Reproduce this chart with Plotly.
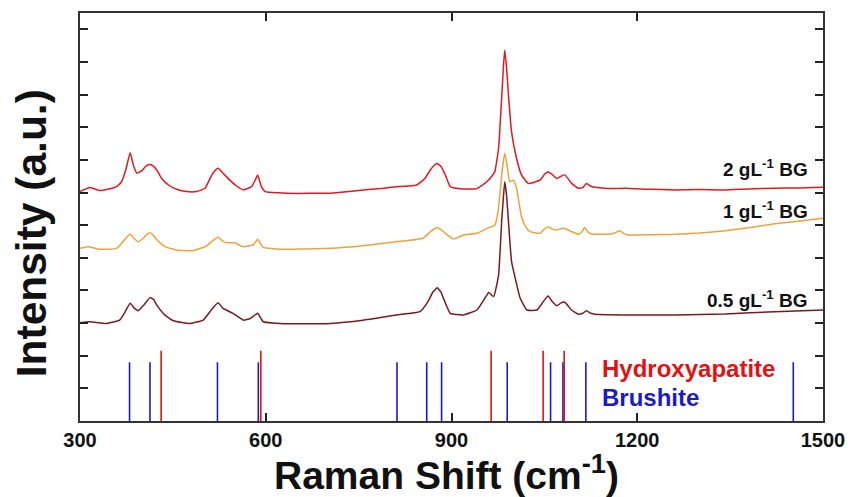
import plotly.graph_objects as go

# Raman spectra of the three bioactive-glass concentrations (offset for clarity)
shift_2g = [300, 316, 332, 345, 359, 367, 374, 381, 386, 392, 400, 406, 412, 418, 424, 432,
            443, 456, 472, 488, 502, 510, 516, 523, 531, 542, 553, 564, 577, 583, 587, 593,
            599, 620, 650, 680, 704, 730, 757, 785, 811, 830, 844, 857, 866, 876, 883, 890,
            898, 919, 941, 957, 965, 970, 976, 981, 984, 986, 989, 992, 997, 1005, 1013, 1024,
            1043, 1050, 1056, 1063, 1070, 1077, 1083, 1094, 1105, 1112, 1118, 1124, 1132, 1155,
            1180, 1220, 1261, 1300, 1342, 1380, 1422, 1460, 1500]
int_2g = [7.03, 7.15, 7.06, 7.10, 7.18, 7.33, 7.70, 8.22, 7.85, 7.59, 7.67, 7.80, 7.86, 7.82,
          7.69, 7.43, 7.23, 7.10, 7.03, 7.03, 7.13, 7.43, 7.62, 7.74, 7.59, 7.38, 7.20, 7.08,
          7.18, 7.38, 7.54, 7.18, 7.03, 6.99, 6.97, 6.98, 6.98, 7.02, 7.08, 7.12, 7.18, 7.20,
          7.23, 7.43, 7.70, 7.89, 7.80, 7.54, 7.18, 7.11, 7.12, 7.33, 7.50, 7.64, 8.35, 9.89,
          10.9, 11.37, 10.8, 9.99, 8.86, 8.05, 7.54, 7.28, 7.38, 7.55, 7.64, 7.55, 7.43, 7.50,
          7.54, 7.28, 7.13, 7.15, 7.28, 7.20, 7.16, 7.12, 7.13, 7.10, 7.08, 7.09, 7.08, 7.11,
          7.13, 7.14, 7.16]

shift_1g = [300, 313, 332, 359, 367, 374, 381, 387, 394, 402, 408, 413, 418, 424, 437, 456,
            483, 504, 514, 523, 530, 537, 550, 556, 564, 580, 587, 592, 596, 623, 660, 704,
            757, 811, 854, 866, 876, 884, 890, 903, 912, 919, 941, 957, 970, 975, 978, 982,
            986, 990, 994, 1000, 1005, 1009, 1013, 1020, 1027, 1043, 1050, 1056, 1063, 1070,
            1078, 1083, 1094, 1105, 1110, 1115, 1120, 1126, 1158, 1166, 1172, 1178, 1186, 1220,
            1261, 1300, 1342, 1380, 1422, 1460, 1500]
int_1g = [5.29, 5.34, 5.26, 5.29, 5.44, 5.60, 5.73, 5.60, 5.49, 5.60, 5.72, 5.77, 5.70, 5.55,
          5.34, 5.24, 5.22, 5.36, 5.52, 5.63, 5.52, 5.46, 5.46, 5.40, 5.34, 5.40, 5.57, 5.42,
          5.32, 5.26, 5.27, 5.29, 5.37, 5.49, 5.60, 5.80, 5.92, 5.85, 5.75, 5.58, 5.64, 5.70,
          5.75, 5.90, 6.00, 6.40, 6.92, 7.70, 8.20, 7.80, 7.33, 7.38, 7.13, 6.70, 6.26, 5.95,
          5.80, 5.75, 5.88, 5.95, 5.88, 5.85, 5.90, 5.90, 5.80, 5.72, 5.78, 5.93, 5.80, 5.73,
          5.73, 5.78, 5.83, 5.75, 5.70, 5.71, 5.72, 5.76, 5.83, 5.92, 6.04, 6.12, 6.21]

shift_05g = [300, 316, 343, 364, 373, 381, 388, 394, 403, 413, 419, 424, 437, 451, 478, 499,
             512, 523, 531, 547, 564, 575, 587, 592, 596, 623, 660, 704, 757, 811, 849, 862,
             870, 877, 883, 887, 898, 919, 941, 954, 960, 968, 976, 981, 984, 986, 989, 992,
             997, 1003, 1011, 1022, 1038, 1048, 1056, 1063, 1070, 1077, 1083, 1094, 1105, 1112,
             1118, 1125, 1132, 1180, 1261, 1342, 1422, 1500]
int_05g = [3.01, 3.04, 2.99, 3.09, 3.35, 3.61, 3.45, 3.38, 3.55, 3.78, 3.72, 3.55, 3.25, 3.07,
           2.99, 3.09, 3.40, 3.62, 3.45, 3.30, 3.09, 3.14, 3.30, 3.15, 3.04, 2.99, 2.98, 2.99,
           3.09, 3.25, 3.35, 3.66, 3.95, 4.08, 3.95, 3.76, 3.30, 3.25, 3.40, 3.76, 3.94, 3.81,
           4.47, 6.11, 6.90, 7.33, 6.90, 6.11, 4.88, 4.37, 3.76, 3.40, 3.40, 3.65, 3.83, 3.65,
           3.53, 3.62, 3.64, 3.40, 3.27, 3.30, 3.38, 3.30, 3.27, 3.25, 3.25, 3.28, 3.35, 3.40]

# Reference band positions (cm-1) and stick heights
hap_bands = [431, 592, 964, 1048, 1082]
brushite_bands = [380, 413, 522, 588, 812, 860, 884, 990, 1060, 1080, 1117, 1452]
hap_height = 2.15
brushite_height = 1.8

x_ticks = [300, 600, 900, 1200, 1500]

FONT = "Arial, Liberation Sans, sans-serif"
RED = "#e3191f"
ORANGE = "#f0a238"
DARK = "#7b1a1c"
HAP_COLOR = "#e31212"
BRU_COLOR = "#1a1ac8"


def sticks(positions, height):
    xs, ys = [], []
    for p in positions:
        xs += [p, p, None]
        ys += [0, height, None]
    return xs, ys


fig = go.Figure()

bx, by = sticks(brushite_bands, brushite_height)
fig.add_trace(go.Scatter(x=bx, y=by, mode="lines", line=dict(color=BRU_COLOR, width=1.6),
                         hoverinfo="skip"))
hx, hy = sticks(hap_bands, hap_height)
fig.add_trace(go.Scatter(x=hx, y=hy, mode="lines", line=dict(color=HAP_COLOR, width=1.6),
                         hoverinfo="skip"))

for xs, ys, col in [(shift_2g, int_2g, RED), (shift_1g, int_1g, ORANGE),
                    (shift_05g, int_05g, DARK)]:
    fig.add_trace(go.Scatter(x=xs, y=ys, mode="lines",
                             line=dict(color=col, width=1.5, shape="spline", smoothing=0.4)))

label_font = dict(family=FONT, size=19, color="#111111")
annotations = [
    dict(x=1479, y=7.75, text="<b>2 gL<sup>-1</sup> BG</b>", xanchor="right", yanchor="middle",
         font=label_font),
    dict(x=1479, y=6.46, text="<b>1 gL<sup>-1</sup> BG</b>", xanchor="right", yanchor="middle",
         font=label_font),
    dict(x=1479, y=3.74, text="<b>0.5 gL<sup>-1</sup> BG</b>", xanchor="right", yanchor="middle",
         font=label_font),
    dict(x=1140, y=1.62, text="<b>Hydroxyapatite</b>", xanchor="left", yanchor="middle",
         font=dict(family=FONT, size=24, color=HAP_COLOR)),
    dict(x=1140, y=0.72, text="<b>Brushite</b>", xanchor="left", yanchor="middle",
         font=dict(family=FONT, size=24, color=BRU_COLOR)),
    dict(xref="paper", yref="paper", x=0.4926, y=-0.125, text="<b>Raman Shift (cm<sup>-1</sup>)</b>",
         xanchor="center", yanchor="middle", font=dict(family=FONT, size=39, color="#111111")),
    dict(xref="paper", yref="paper", x=-0.066, y=0.46, text="<b>Intensity (a.u.)</b>",
         textangle=-90, xanchor="center", yanchor="middle",
         font=dict(family=FONT, size=42.5, color="#111111")),
]
for a in annotations:
    a["showarrow"] = False
    fig.add_annotation(**a)

fig.update_layout(
    width=850, height=497,
    margin=dict(l=80, r=27, t=13, b=76, autoexpand=False),
    paper_bgcolor="white", plot_bgcolor="white",
    showlegend=False,
    font=dict(family=FONT, color="#111111"),
)
fig.update_xaxes(range=[300, 1500], tickvals=x_ticks, ticktext=[f"<b>{t}</b>" for t in x_ticks],
                 tickfont=dict(size=20, family=FONT, color="#111111"),
                 ticks="inside", ticklen=8, tickwidth=1.5, tickcolor="#222222",
                 showline=True, linecolor="#333333", linewidth=2, mirror="ticks",
                 showgrid=False, zeroline=False, automargin=False)
fig.update_yaxes(range=[0, 12.5], dtick=1, tick0=0, showticklabels=False,
                 ticks="inside", ticklen=8, tickwidth=1.5, tickcolor="#222222",
                 showline=True, linecolor="#333333", linewidth=2, mirror="ticks",
                 showgrid=False, zeroline=False, automargin=False)

fig.write_html("out.html")
